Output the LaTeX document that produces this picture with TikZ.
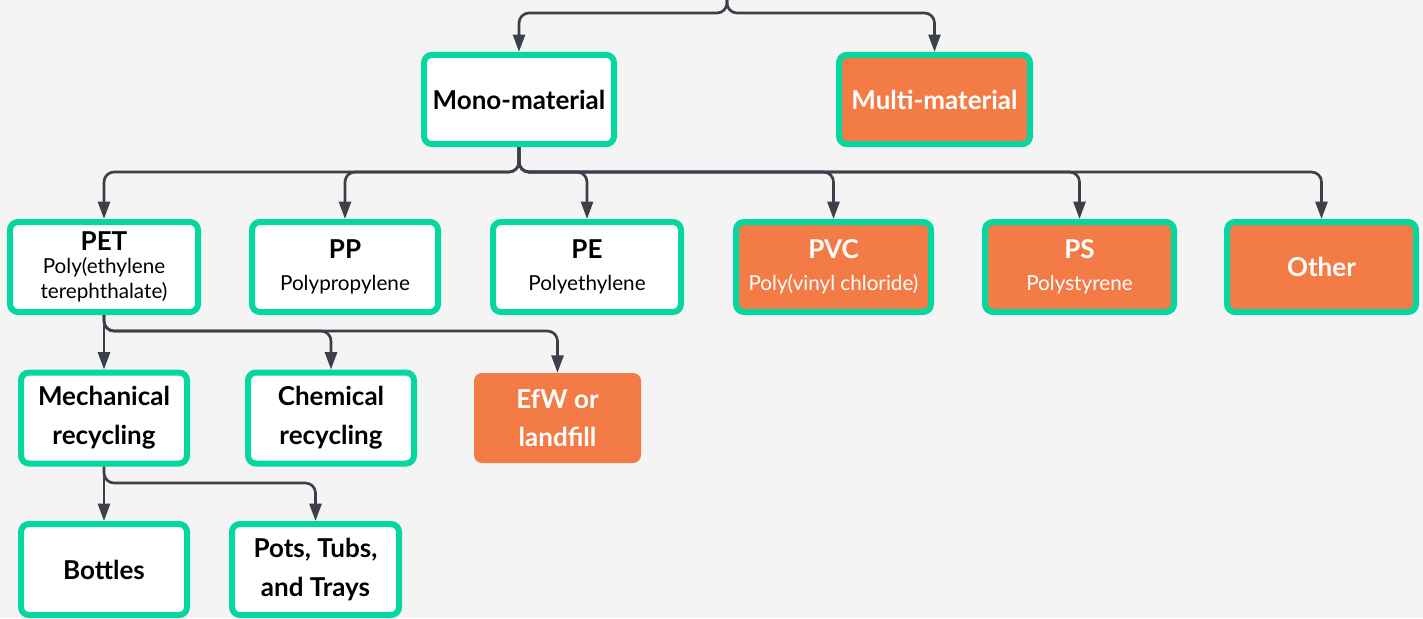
\documentclass[tikz,border=0pt]{standalone}
\usepackage{fontspec}
\setmainfont{Lato}
\usetikzlibrary{arrows.meta}
\definecolor{grn}{HTML}{06D6A0}
\definecolor{org}{HTML}{F37B45}
\definecolor{ln}{HTML}{3B404B}
\definecolor{bgc}{HTML}{F4F4F4}
\newcommand\ttlf{\fontsize{19.5}{24}\selectfont\bfseries}
\newcommand\subf{\fontsize{15.5}{19}\selectfont}
\begin{document}
\begin{tikzpicture}[x=0.75pt,y=-0.75pt,
  box/.style={draw=grn, line width=4.5pt, rounded corners=6pt, fill=white, align=center, inner sep=0pt, text=black},
  obox/.style={box, fill=org, text=white},
  efwbox/.style={fill=org, rounded corners=6pt, text=white, align=center, inner sep=0pt},
  conn/.style={draw=ln, line width=2pt, rounded corners=7.5pt, -{Triangle[length=13pt,width=9pt]}}]
\fill[bgc] (0,0) rectangle (1423,618);
\useasboundingbox (0,0) rectangle (1423,618);

% top level
\node[box, minimum width=142.5pt, minimum height=67pt, font=\ttlf] (mono) at (519,99.5) {Mono-material};
\node[obox, minimum width=143.25pt, minimum height=67pt, font=\ttlf] (multi) at (934.5,99.5) {Multi-material};

% row 2
\node[box, minimum width=141pt, minimum height=67.5pt, font=\subf] (pet) at (104,267) {{\ttlf PET}\\[-1.5pt]Poly(ethylene\\terephthalate)};
\node[box, minimum width=139.5pt, minimum height=67.5pt, font=\subf] (pp) at (345,267) {{\ttlf PP}\\[5pt]Polypropylene};
\node[box, minimum width=141pt, minimum height=67.5pt, font=\subf] (pe) at (587,267) {{\ttlf PE}\\[5pt]Polyethylene};
\node[obox, minimum width=146.25pt, minimum height=67.5pt, font=\subf] (pvc) at (833.5,267) {{\ttlf PVC}\\[5pt]Poly(vinyl chloride)};
\node[obox, minimum width=141.75pt, minimum height=67.5pt, font=\subf] (ps) at (1079.5,267) {{\ttlf PS}\\[5pt]Polystyrene};
\node[obox, minimum width=141.75pt, minimum height=67.5pt, font=\ttlf] (other) at (1321.5,267) {Other};

% row 3
\node[box, minimum width=124.5pt, minimum height=68.25pt, font=\ttlf] (mech) at (104,418) {Mechanical\\[5pt]recycling};
\node[box, minimum width=124.5pt, minimum height=68.25pt, font=\ttlf] (chem) at (331,418) {Chemical\\[5pt]recycling};
\node[efwbox, minimum width=125.25pt, minimum height=67.5pt, font=\ttlf] (efw) at (557.5,418) {EfW or\\[5pt]landfill};

% row 4
\node[box, minimum width=124.5pt, minimum height=68.25pt, font=\ttlf] (bottles) at (104,569.5) {Bottles};
\node[box, minimum width=125.25pt, minimum height=68.25pt, font=\ttlf] (pots) at (315.5,569.5) {Pots, Tubs,\\[5pt]and Trays};

% connectors
\coordinate (top) at (727,0);
\draw[conn] (top) -- (727,13) -| (mono.north);
\draw[conn] (top) -- (727,13) -| (multi.north);

\foreach \c in {pet,pp,pe,pvc,ps,other}
  \draw[conn] (mono.south) -- (519,172) -| (\c.north);

\draw[conn] (pet.south) -- (mech.north);
\draw[conn] (pet.south) -- (104,331) -| (chem.north);
\draw[conn] (pet.south) -- (104,331) -| (efw.north);

\draw[conn] (mech.south) -- (bottles.north);
\draw[conn] (mech.south) -- (104,483) -| (pots.north);
\end{tikzpicture}
\end{document}
